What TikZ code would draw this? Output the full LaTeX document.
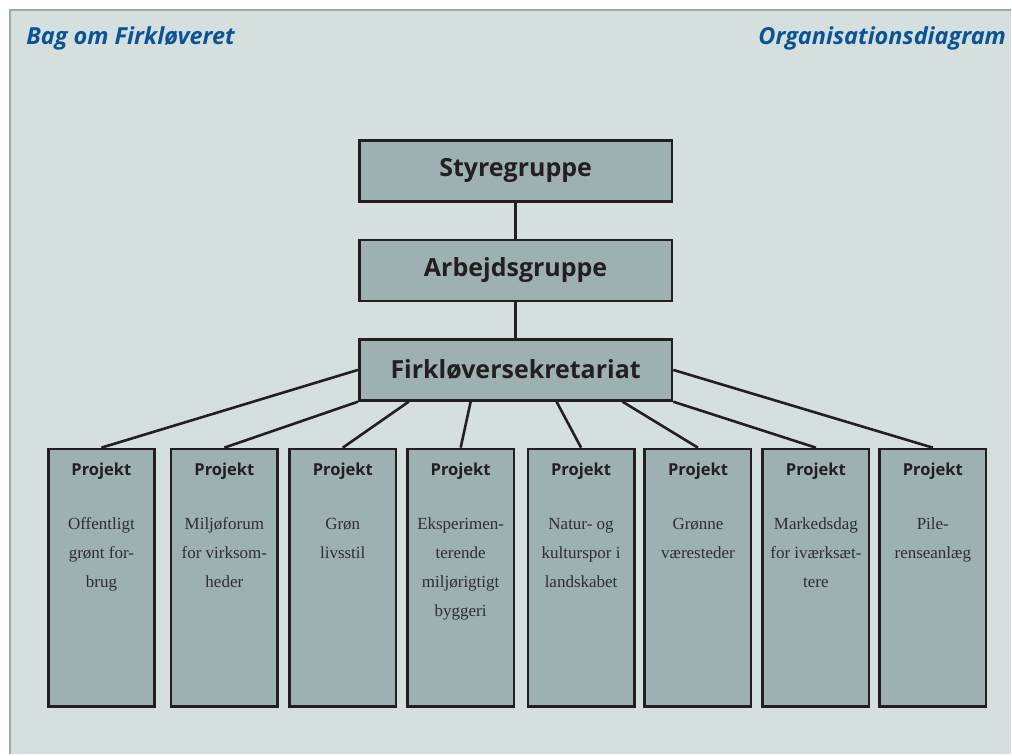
\documentclass[tikz,border=0pt]{standalone}
\usepackage{fontspec}
\setmainfont{Liberation Serif}
\setsansfont{Open Sans}
\usetikzlibrary{positioning}

\definecolor{panelbg}{HTML}{D5DFDE}
\definecolor{boxfill}{HTML}{9DB1B0}
\definecolor{boxline}{HTML}{231F20}
\definecolor{titleblue}{HTML}{0B5394}
\definecolor{panelrule}{HTML}{9AAAA9}

\begin{document}
\begin{tikzpicture}[x=1pt,y=-1pt,line width=2.6pt,node distance=36pt,
    group box/.style={draw=boxline,fill=boxfill,minimum width=313pt,minimum height=61pt,inner sep=0pt,
        font=\sffamily\bfseries\fontsize{25}{30}\selectfont,text=boxline},
    proj box/.style={draw=boxline,fill=boxfill,minimum width=106.5pt,minimum height=258pt,anchor=north,inner sep=0pt},
    proj head/.style={anchor=base,inner sep=0pt,font=\sffamily\bfseries\fontsize{16.5}{20}\selectfont,text=boxline},
    proj text/.style={anchor=north,inner sep=0pt,align=center,font=\fontsize{17}{29}\selectfont,
        text=black!82,execute at begin node=\strut},
    title/.style={anchor=base,inner sep=0pt,font=\sffamily\bfseries\itshape\fontsize{23.5}{28}\selectfont,text=titleblue}]

    % panel
    \fill[white] (0,0) rectangle (1012,755);
    \fill[panelbg] (10,10) rectangle (1012,755);
    \draw[panelrule,line width=1.5pt] (10,755) -- (10,10) -- (1012,10);

    \node[title,anchor=base west] (left title) at (25,45) {Bag om Firkløveret};
    \node[title,anchor=base east] (right title) at (1008,45) {Organisationsdiagram};

    % top of the tree
    \node[group box] (styre) at (516,171) {Styregruppe};
    \node[group box] (arbejd) [below=of styre] {Arbejdsgruppe};
    \node[group box] (firk) [below=of arbejd] {Firkløversekretariat};

    \draw[boxline] (styre) -- (arbejd);
    \draw[boxline] (arbejd) -- (firk);

    % projects
    \foreach \cx/\name/\body in {101.5/p1/{Offentligt\\grønt for-\\brug},
                                 224.5/p2/{Miljøforum\\for virksom-\\heder},
                                 343/p3/{Grøn\\livsstil},
                                 461/p4/{Eksperimen-\\terende\\miljørigtigt\\byggeri},
                                 581.5/p5/{Natur- og\\kulturspor i\\landskabet},
                                 698.5/p6/{Grønne\\væresteder},
                                 816.5/p7/{Markedsdag\\for iværksæt-\\tere},
                                 933.5/p8/{Pile-\\renseanlæg}} {
        \node[proj box] (\name) at (\cx,448) {};
        \node[proj head] (\name h) at ([yshift=-28pt]\name.north) {Projekt};
        \node[proj text] (\name t) at ([yshift=-69pt]\name.north) {\body};
    }

    \draw[boxline] (firk.west) -- (p1.north);
    \draw[boxline] (firk.south west) -- (p2.north);
    \draw[boxline] ([xshift=-107pt]firk.south) -- (p3.north);
    \draw[boxline] ([xshift=-45pt]firk.south) -- (p4.north);
    \draw[boxline] ([xshift=41pt]firk.south) -- (p5.north);
    \draw[boxline] ([xshift=107pt]firk.south) -- (p6.north);
    \draw[boxline] (firk.south east) -- (p7.north);
    \draw[boxline] (firk.east) -- (p8.north);
\end{tikzpicture}
\end{document}
